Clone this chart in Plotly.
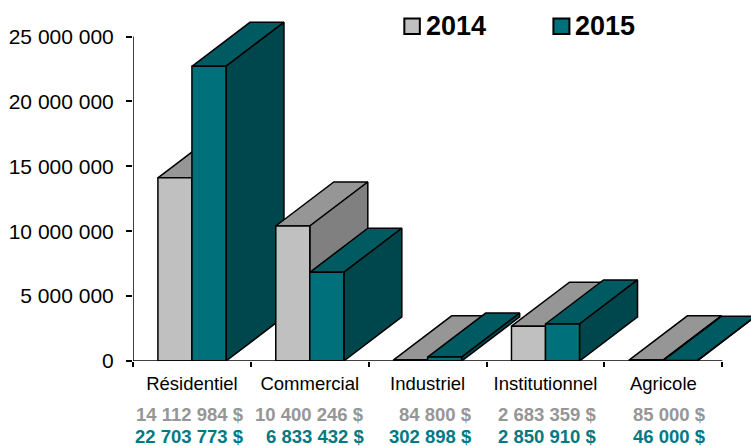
import plotly.graph_objects as go

categories = ["Résidentiel", "Commercial", "Industriel", "Institutionnel", "Agricole"]
values_2014 = [14112984, 10400246, 84800, 2683359, 85000]
values_2015 = [22703773, 6833432, 302898, 2850910, 46000]
labels_2014 = ["14 112 984 $", "10 400 246 $", "84 800 $", "2 683 359 $", "85 000 $"]
labels_2015 = ["22 703 773 $", "6 833 432 $", "302 898 $", "2 850 910 $", "46 000 $"]
y_ticks = [0, 5000000, 10000000, 15000000, 20000000, 25000000]
y_tick_labels = ["0", "5 000 000", "10 000 000", "15 000 000", "20 000 000", "25 000 000"]
label_shift_px = [54, 56, 46, 52, 45]

W, H = 751, 446
PX_L, PX_B = 133.3, 360.7
PX_PER_CAT = 117.8
PX_PER_5M = 64.84
PX_TOP = 10
BAR_W = 34 / PX_PER_CAT
DX = 58 / PX_PER_CAT
DY = 44 / PX_PER_5M * 5000000
FONT = "Liberation Sans"

STYLES = {
    "2014": dict(front="#c0c0c0", top="#969696", side="#808080"),
    "2015": dict(front="#00707a", top="#005a62", side="#00474d"),
}

fig = go.Figure()


def poly(xs, ys, color):
    fig.add_trace(go.Scatter(
        x=xs + xs[:1], y=ys + ys[:1], mode="lines", fill="toself", fillcolor=color,
        line=dict(color="#000000", width=1.5), hoverinfo="skip", showlegend=False,
        cliponaxis=False,
    ))


def bar(left, value, st):
    right = left + BAR_W
    poly([left, left + DX, right + DX, right], [value, value + DY, value + DY, value], st["top"])
    poly([right, right + DX, right + DX, right], [0, DY, value + DY, value], st["side"])
    poly([left, right, right, left], [0, 0, value, value], st["front"])


for i in range(len(categories)):
    c = i + 0.5
    bar(c - BAR_W, values_2014[i], STYLES["2014"])
    bar(c, values_2015[i], STYLES["2015"])

# axis lines limited to the labelled range
fig.add_trace(go.Scatter(x=[0, len(categories)], y=[0, 0], mode="lines", line=dict(color="#000", width=1.5),
                         hoverinfo="skip", showlegend=False, cliponaxis=False))
fig.add_trace(go.Scatter(x=[0, 0], y=[0, y_ticks[-1]], mode="lines", line=dict(color="#000", width=1.5),
                         hoverinfo="skip", showlegend=False, cliponaxis=False))


def px_x(px):
    return (px - PX_L) / (W - PX_L)


def px_y(py):
    return (PX_B - py) / (PX_B - PX_TOP)


annotations = []
for i in range(len(categories)):
    for labels, col, py in ((labels_2014, "#969696", 414), (labels_2015, "#007a82", 436)):
        annotations.append(dict(
            x=i + 0.5, xref="x", y=px_y(py), yref="paper", yanchor="middle", xanchor="right",
            xshift=label_shift_px[i], text=f"<b>{labels[i]}</b>", showarrow=False,
            font=dict(family=FONT, size=18.5, color=col),
        ))

shapes = []
for name, x0, x1, tx in (("2014", 404.5, 420, 424), ("2015", 553.5, 569.5, 573)):
    shapes.append(dict(type="rect", xref="paper", yref="paper",
                       x0=px_x(x0), x1=px_x(x1), y0=px_y(34), y1=px_y(18.5),
                       fillcolor=STYLES[name]["front"], line=dict(color="#000", width=2)))
    annotations.append(dict(
        x=px_x(tx), xref="paper", y=px_y(26), yref="paper", xanchor="left", yanchor="middle",
        text=f"<b>{name}</b>", showarrow=False, font=dict(family=FONT, size=27, color="#000"),
    ))

fig.update_layout(
    width=W, height=H, paper_bgcolor="white", plot_bgcolor="white",
    margin=dict(l=PX_L, r=0, t=PX_TOP, b=H - PX_B, pad=0),
    font=dict(family=FONT, color="#000"),
    xaxis=dict(
        range=[0, (W - PX_L) / PX_PER_CAT], showgrid=False, zeroline=False, showline=False,
        tickmode="array", tickvals=[i + 0.5 for i in range(len(categories))], ticktext=categories,
        ticks="", tickfont=dict(size=18.5, family=FONT), ticklabelstandoff=9,
        minor=dict(tickmode="array", tickvals=list(range(len(categories) + 1)), ticks="outside",
                   ticklen=5, tickwidth=1.5, tickcolor="#000", showgrid=False),
    ),
    yaxis=dict(
        range=[0, (PX_B - PX_TOP) / PX_PER_5M * 5000000], showgrid=False, zeroline=False, showline=False,
        tickmode="array", tickvals=y_ticks, ticktext=y_tick_labels,
        ticks="outside", ticklen=6, tickwidth=1.5, tickcolor="#000",
        tickfont=dict(size=21, family=FONT), ticklabelstandoff=8,
    ),
    annotations=annotations, shapes=shapes,
)

fig.write_html("out.html", config={"displayModeBar": False},
               post_script="document.body.style.margin='0';")
